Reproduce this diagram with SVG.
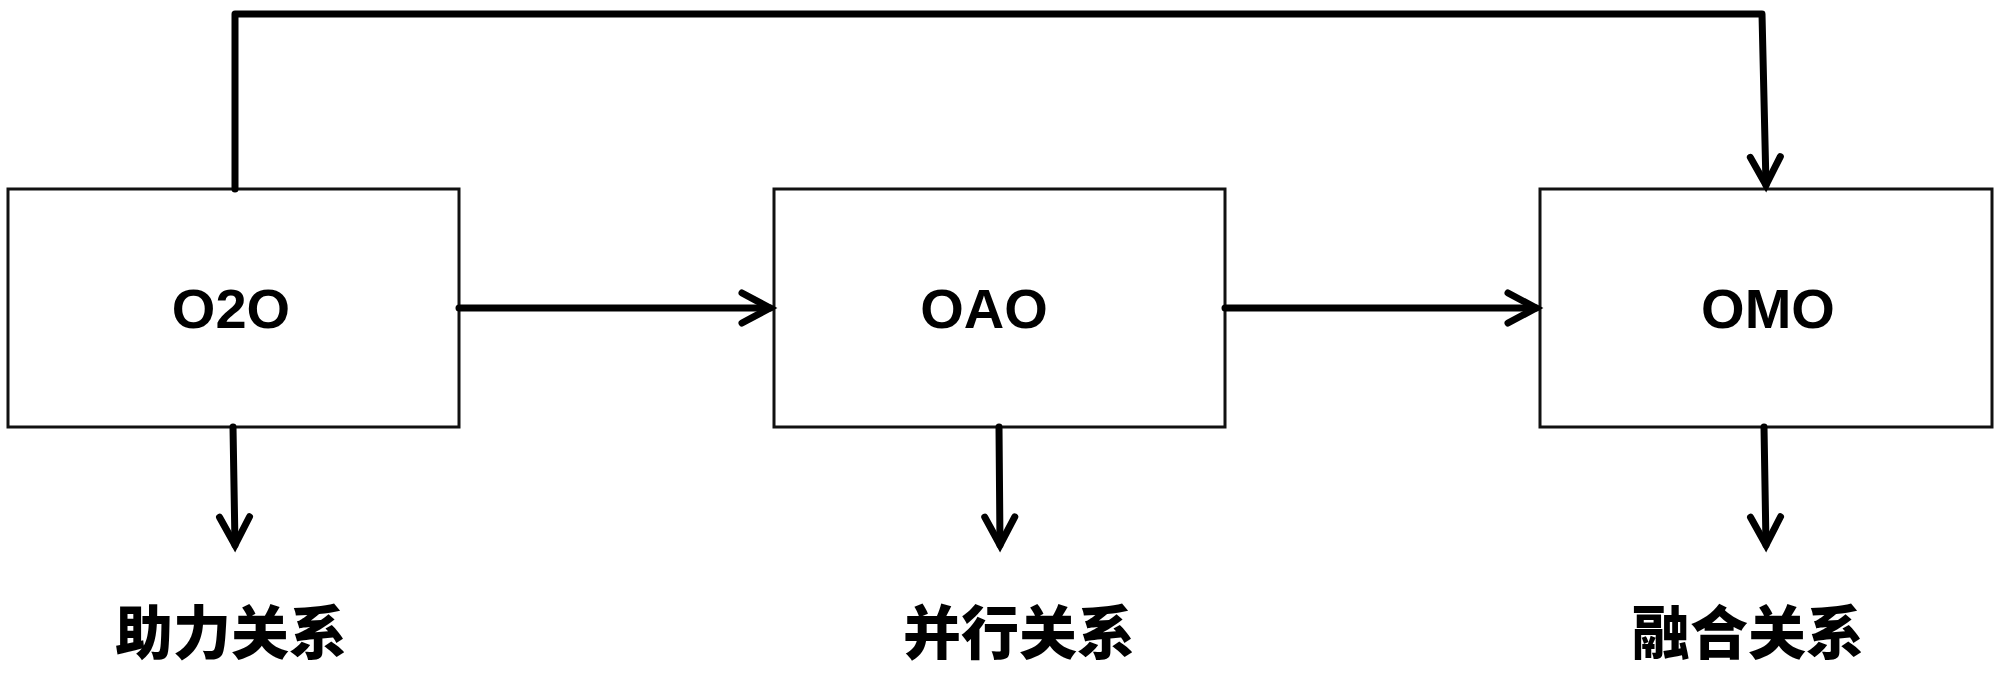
<svg xmlns="http://www.w3.org/2000/svg" width="2000" height="675" viewBox="0 0 2000 675">
<style>
.box{fill:#fff;stroke:#111;stroke-width:3}
.lbl{font-family:"Liberation Sans",Arial,sans-serif;font-weight:bold;font-size:56px;fill:#000;text-anchor:middle}
.cjk{font-family:"Noto Sans CJK SC",sans-serif;font-weight:900;font-size:58px;fill:#000;text-anchor:middle}
.conn{fill:none;stroke:#000;stroke-width:7;stroke-linecap:round;stroke-linejoin:round}
</style>
<defs>
<marker id="arr" markerUnits="userSpaceOnUse" markerWidth="60" markerHeight="60" refX="0" refY="0" viewBox="-40 -30 60 60" orient="auto" overflow="visible">
<path d="M-28,-15 L0,0 L-28,15" fill="none" stroke="#000" stroke-width="7" stroke-linecap="round" stroke-linejoin="miter"/>
</marker>
</defs>
<rect width="2000" height="675" fill="#fff"/>
<g id="node-o2o">
<rect class="box" x="8" y="189" width="451" height="238"/>
<text class="lbl" x="231" y="328">O2O</text>
</g>
<g id="node-oao">
<rect class="box" x="774" y="189" width="451" height="238"/>
<text class="lbl" x="984" y="328">OAO</text>
</g>
<g id="node-omo">
<rect class="box" x="1540" y="189" width="452" height="238"/>
<text class="lbl" x="1768" y="328">OMO</text>
</g>
<g id="label-zhuli"><text class="cjk" x="231" y="654">助力关系</text></g>
<g id="label-bingxing"><text class="cjk" x="1019" y="654">并行关系</text></g>
<g id="label-ronghe"><text class="cjk" x="1748" y="654">融合关系</text></g>
<g id="connectors">
<path class="conn" d="M235,189 L235,14 L1762,14 L1766,185" marker-end="url(#arr)"/>
<path class="conn" d="M459,308 L770,308" marker-end="url(#arr)"/>
<path class="conn" d="M1225,308 L1536,308" marker-end="url(#arr)"/>
<path class="conn" d="M233,427 L235,545" marker-end="url(#arr)"/>
<path class="conn" d="M999,427 L1000,545" marker-end="url(#arr)"/>
<path class="conn" d="M1764,427 L1766,545" marker-end="url(#arr)"/>
</g>
</svg>
